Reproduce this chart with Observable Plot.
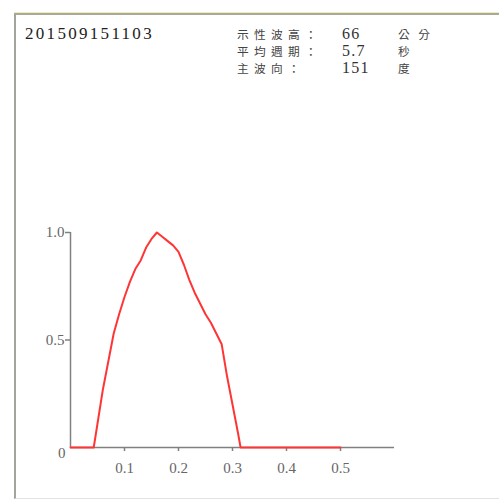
<!DOCTYPE html>
<html>
<head>
<meta charset="utf-8">
<script src="https://cdn.jsdelivr.net/npm/d3@7"></script>
<script src="https://cdn.jsdelivr.net/npm/@observablehq/plot@0.6"></script>
<style>
  html, body { margin: 0; padding: 0; background: #fff; }
  #wrap { position: relative; width: 499px; height: 500px; overflow: hidden; }
  #frame { position: absolute; left: 14px; top: 13px; width: 500px; height: 483px;
           border-left: 2px solid #a4a49c; border-top: 2px solid #a8a8a0; border-bottom: 1px solid #e2e2e2;
           box-shadow: 0 -1px 0 #f2f0a8; }
  #plot, #head { position: absolute; left: 0; top: 0; }
</style>
</head>
<body>
<div id="wrap">
  <div id="frame"></div>
  <div id="plot"></div>
  <svg id="head" width="499" height="90"></svg>
</div>
<script>
// ---- data ----
const stamp = "201509151103";
const infoLabels = ["示性波高：", "平均週期：", "主波向："];
const infoValues = ["66", "5.7", "151"];
const infoUnits = ["公分", "秒", "度"];

const freq = [0, 0.043, 0.06, 0.08, 0.09, 0.10, 0.11, 0.12, 0.13, 0.14, 0.15, 0.16, 0.17, 0.18, 0.19, 0.20, 0.21, 0.22, 0.23, 0.24, 0.25, 0.26, 0.27, 0.28, 0.29, 0.30, 0.31, 0.315, 0.5];
const energy = [0, 0, 0.27, 0.53, 0.62, 0.70, 0.77, 0.83, 0.87, 0.93, 0.97, 1.0, 0.98, 0.96, 0.94, 0.91, 0.85, 0.78, 0.72, 0.67, 0.62, 0.58, 0.53, 0.48, 0.33, 0.20, 0.07, 0, 0];

const xTicks = [0.1, 0.2, 0.3, 0.4, 0.5];
const yTicks = [0.5, 1.0];
const yTickLabels = ["0.5", "1.0"];
const yZero = [0];

const SERIF = "'Liberation Serif', 'Times New Roman', Times, 'DejaVu Serif', serif";
const CJK = "'Noto Sans CJK TC', 'Noto Sans CJK SC', sans-serif";

// ---- header text ----
const head = d3.select("#head");
function addText(str, x, y, font, size, spacing, color) {
  head.append("text")
    .attr("x", x).attr("y", y)
    .attr("font-family", font)
    .attr("font-size", size)
    .attr("letter-spacing", spacing)
    .attr("fill", color)
    .text(str);
}
addText(stamp, 25, 39, SERIF, 17, 2.3, "#222");
const rowBase = [39, 56, 73];
infoLabels.forEach((s, i) => addText(s, 237, rowBase[i], CJK, 11.7, 5.3, "#444"));
infoValues.forEach((s, i) => addText(s, 342, rowBase[i], SERIF, 16, 1.2, "#333"));
infoUnits.forEach((s, i) => addText(s, 398, rowBase[i], CJK, 11.7, 8.5, "#444"));

// ---- chart ----
const data = freq.map((f, i) => ({f, e: energy[i]}));
const axisColor = "#808080";
const chart = Plot.plot({
  width: 499,
  height: 500,
  marginLeft: 70,
  marginRight: 105,
  marginTop: 232,
  marginBottom: 53,
  style: {background: "transparent", fontFamily: SERIF, fontSize: "15px"},
  x: {domain: [0, 0.6], label: null},
  y: {domain: [0, 1], label: null},
  marks: [
    Plot.ruleY([0], {stroke: axisColor, strokeWidth: 1.5}),
    Plot.ruleX([0], {y1: 0, y2: 1, stroke: axisColor, strokeWidth: 1.5}),
    Plot.axisX(xTicks, {tickSize: 4, tickPadding: 11, color: "#666", stroke: axisColor, strokeWidth: 1.5, fontSize: 15, tickFormat: d => d.toFixed(1)}),
    Plot.axisY(yTicks, {tickSize: 5, tickPadding: 1, color: "#666", stroke: axisColor, strokeWidth: 1.5, fontSize: 15, tickFormat: (d, i) => yTickLabels[i]}),
    Plot.axisY(yZero, {tickSize: 0, tickPadding: 5, color: "#666", dy: 6, fontSize: 15, tickFormat: d => String(d)}),
    Plot.line(data, {x: "f", y: "e", stroke: "#ff3535", strokeWidth: 2})
  ]
});
document.getElementById("plot").appendChild(chart);
</script>
</body>
</html>
